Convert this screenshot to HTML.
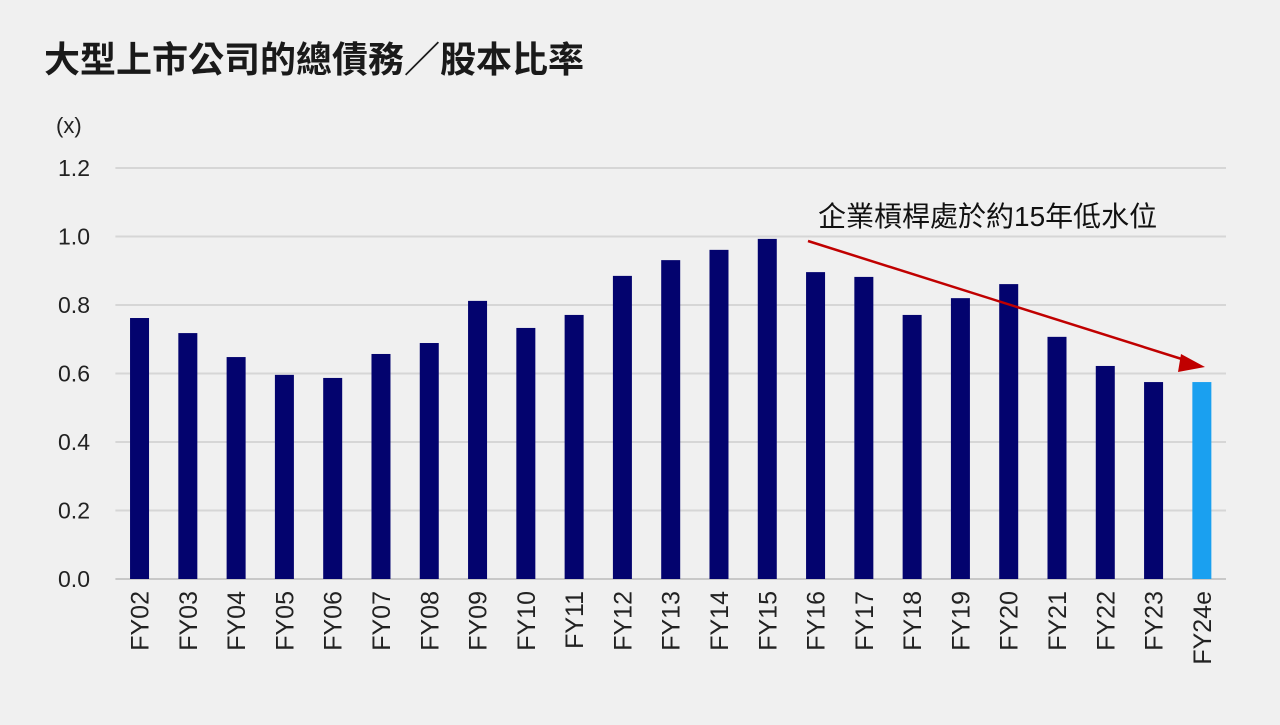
<!DOCTYPE html>
<html><head><meta charset="utf-8"><style>
html,body{margin:0;padding:0;background:#f0f0f0;}
body{width:1280px;height:720px;overflow:hidden;font-family:"Liberation Sans","Noto Sans CJK TC",sans-serif;}
</style></head><body>
<svg width="1280" height="720" style="font-family:'Liberation Sans','Noto Sans CJK TC',sans-serif">
<text x="44" y="72" font-size="36" font-weight="bold" fill="#1a1a1a">大型上市公司的總債務／股本比率</text>
<text x="56" y="133" font-size="22" fill="#222">(x)</text>
<g id="grid"></g><g id="bars"></g><g id="xl"></g>
<line x1="808" y1="241" x2="1188" y2="361" stroke="#c00000" stroke-width="2.5"/>
<path d="M1181,354 L1205,367 L1178,372 z" fill="#c00000"/>
<text x="818" y="226" font-size="28" fill="#111">企業槓桿處於約15年低水位</text>
</svg>
<script>
const categories=["FY02","FY03","FY04","FY05","FY06","FY07","FY08","FY09","FY10","FY11","FY12","FY13","FY14","FY15","FY16","FY17","FY18","FY19","FY20","FY21","FY22","FY23","FY24e"];
const values=[0.762,0.718,0.648,0.596,0.587,0.657,0.689,0.812,0.733,0.771,0.885,0.931,0.961,0.993,0.896,0.882,0.771,0.820,0.861,0.707,0.622,0.575,0.575];
const ticks=[0,0.2,0.4,0.6,0.8,1.0,1.2];
const tickLabels=["0.0","0.2","0.4","0.6","0.8","1.0","1.2"];
const NS="http://www.w3.org/2000/svg";
const x0=115.4,x1=1226,y0=579,yTop=168;
const y=v=>y0-(v/1.2)*(y0-yTop);
const band=(x1-x0)/categories.length;
const xc=i=>x0+band*(i+0.5);
const g=document.getElementById('grid'),b=document.getElementById('bars'),xl=document.getElementById('xl');
ticks.forEach((t,i)=>{
 const l=document.createElementNS(NS,'line');
 l.setAttribute('x1',x0);l.setAttribute('x2',x1);l.setAttribute('y1',y(t));l.setAttribute('y2',y(t));
 l.setAttribute('stroke',i===0?'#c8c8c8':'#d6d6d6');l.setAttribute('stroke-width','2');
 
 
 g.appendChild(l);
 const tx=document.createElementNS(NS,'text');
 tx.setAttribute('x',90);tx.setAttribute('y',y(t)+8);tx.setAttribute('text-anchor','end');
 tx.setAttribute('font-size','23');tx.setAttribute('fill','#222');tx.textContent=tickLabels[i];
 
 
 g.appendChild(tx);
});
categories.forEach((c,i)=>{
 const r=document.createElementNS(NS,'rect');
 const w=19;
 r.setAttribute('x',xc(i)-w/2);r.setAttribute('width',w);
 r.setAttribute('y',y(values[i]));r.setAttribute('height',y0-y(values[i]));
 r.setAttribute('fill',i===categories.length-1?'#1aa0f0':'#03036e');
 
 
 b.appendChild(r);
 const t=document.createElementNS(NS,'text');
 t.setAttribute('transform','translate('+(xc(i)+9)+',591) rotate(-90)');
 t.setAttribute('text-anchor','end');t.setAttribute('font-size','25');t.setAttribute('fill','#222');
 t.textContent=c;
 
 
 xl.appendChild(t);
});
</script>
</body></html>
